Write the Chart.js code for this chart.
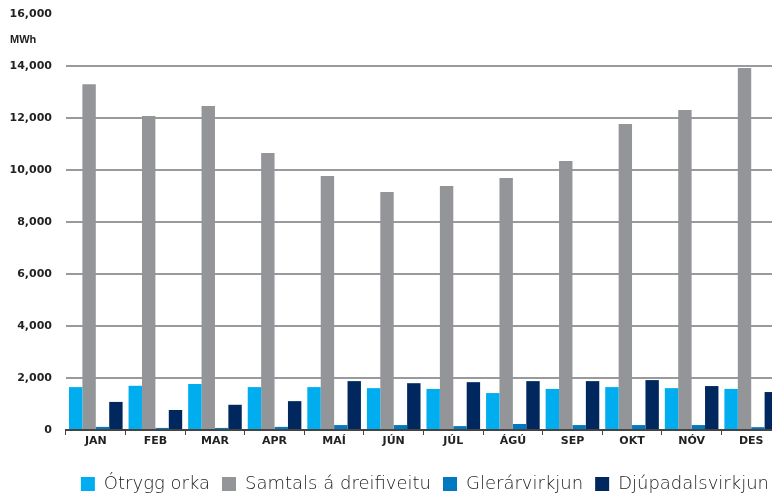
<!DOCTYPE html>
<html>
<head>
<meta charset="utf-8">
<script src="https://cdn.jsdelivr.net/npm/chart.js@4/dist/chart.umd.min.js"></script>
<style>
html,body{margin:0;padding:0;background:#fff;overflow:hidden;}
#wrap{position:relative;width:782px;height:499px;}
</style>
</head>
<body>
<div id="wrap"><canvas id="c"></canvas></div>
<script>
const categories = ['JAN','FEB','MAR','APR','MAÍ','JÚN','JÚL','ÁGÚ','SEP','OKT','NÓV','DES'];
const otryggOrka = [1650,1700,1770,1650,1650,1610,1580,1420,1580,1650,1610,1580];
const samtals = [13300,12080,12460,10650,9770,9150,9380,9690,10350,11770,12310,13920];
const glerarvirkjun = [120,80,80,120,190,190,150,230,190,190,190,110];
const djupadalsvirkjun = [1080,770,970,1110,1880,1800,1840,1880,1880,1920,1690,1460];
const seriesNames = ['Ótrygg orka','Samtals á dreifiveitu','Glerárvirkjun','Djúpadalsvirkjun'];
const unitLabel = 'MWh';

const unitPlugin = {
  id: 'unitLabel',
  afterDraw(chart) {
    const y = chart.scales.y;
    const ctx = chart.ctx;
    ctx.save();
    ctx.font = 'bold 11px "Liberation Sans Narrow", "Liberation Sans", Arial, sans-serif';
    ctx.fillStyle = '#222';
    ctx.textAlign = 'left';
    ctx.textBaseline = 'middle';
    ctx.fillText(unitLabel, 10, y.getPixelForValue(15000));
    ctx.restore();
  }
};

new Chart(document.getElementById('c'), {
  type: 'bar',
  data: {
    labels: categories,
    datasets: [
      {label: seriesNames[0], data: otryggOrka, backgroundColor: '#00AEEF'},
      {label: seriesNames[1], data: samtals, backgroundColor: '#939598'},
      {label: seriesNames[2], data: glerarvirkjun, backgroundColor: '#0079C1'},
      {label: seriesNames[3], data: djupadalsvirkjun, backgroundColor: '#00285E'}
    ]
  },
  options: {
    responsive: true,
    maintainAspectRatio: false,
    animation: false,
    devicePixelRatio: 1,
    layout: {padding: {left: 9, right: 1, top: 14, bottom: -4}},
    datasets: {bar: {barPercentage: 1.0, categoryPercentage: 0.9}},
    plugins: {
      legend: {
        position: 'bottom',
        align: 'end',
        labels: {
          boxWidth: 14, boxHeight: 14, padding: 12,
          color: '#222',
          font: {family: '"DejaVu Sans", sans-serif', size: 18, weight: 200}
        }
      },
      tooltip: {enabled: false}
    },
    scales: {
      x: {
        afterFit(s) { s.height = 33; },
        grid: {display: true, drawOnChartArea: false, drawTicks: true, tickLength: 5, color: '#444', lineWidth: 1, offset: true},
        border: {display: true, color: '#444', width: 2},
        ticks: {color: '#222', padding: 0, font: {family: '"DejaVu Sans", sans-serif', size: 11, weight: 'bold'}}
      },
      y: {
        min: 0, max: 16000,
        afterFit(s) { s.width = 57; s.paddingTop = 0; },
        ticks: {stepSize: 2000, color: '#222', padding: 14, font: {family: '"DejaVu Sans", sans-serif', size: 11, weight: 'bold'}},
        grid: {drawTicks: false, lineWidth: 2, color: (c) => (c.tick && c.tick.value === 16000) ? 'rgba(0,0,0,0)' : '#9a9a9c'},
        border: {display: false}
      }
    }
  },
  plugins: [unitPlugin]
});
</script>
</body>
</html>
